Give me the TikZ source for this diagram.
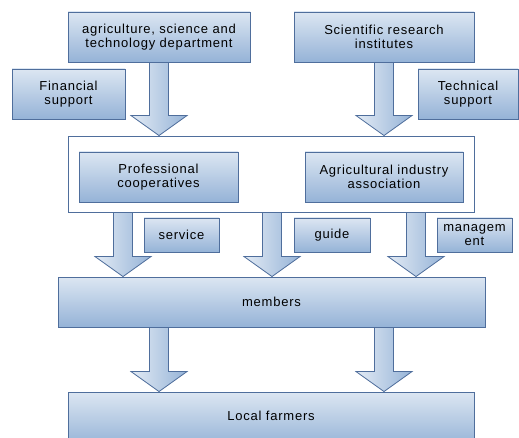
\documentclass[tikz,border=0pt]{standalone}
\usepackage{fontspec}
\setmainfont{Liberation Sans}[LetterSpace=6]
\usepackage{xcolor}
\usepackage{tikz}
\usetikzlibrary{calc,positioning}

\definecolor{boxtop}{HTML}{DCE6F2}
\definecolor{boxbot}{HTML}{95B3D7}
\definecolor{boxline}{HTML}{4F6E9C}

\tikzset{
  blue box/.style={draw=boxline,line width=0.9pt,top color=boxtop,bottom color=boxbot,
    inner sep=0pt,align=center,font=\fontsize{13}{14}\selectfont},
  group box/.style={draw=boxline,line width=0.9pt,fill=white,inner sep=0pt},
  fat arrow/.style={draw=boxline,line width=0.8pt,left color=boxtop!80!white,right color=boxbot}
}

% block arrow from #1 down to #2
\newcommand{\fatarrow}[2]{%
  \path[fat arrow] let \p1=#1, \p2=#2 in
    (\x1-9.5pt,\y1) -- (\x1+9.5pt,\y1) -- (\x1+9.5pt,\y2+20pt) -- (\x1+28pt,\y2+20pt)
    -- (\x1,\y2) -- (\x1-28pt,\y2+20pt) -- (\x1-9.5pt,\y2+20pt) -- cycle;}

\begin{document}
\begin{tikzpicture}[x=1pt,y=-1pt]
\useasboundingbox (0,0) rectangle (519,438);

\node[blue box,minimum width=182pt,minimum height=50pt] (dept) at (159,37) {agriculture, science and\\technology department};
\node[blue box,minimum width=180pt,minimum height=50pt] (inst) at (384,37) {Scientific research\\institutes};
\node[blue box,minimum width=113pt,minimum height=50pt] (fin) at (68.5,94) {Financial\\support};
\node[blue box,minimum width=100pt,minimum height=50pt] (tech) at (468,94) {Technical\\support};

\node[group box,minimum width=406pt,minimum height=76pt] (orgs) at (271,174) {};
\node[blue box,minimum width=159pt,minimum height=50pt] (coop) at (158.5,177) {Professional\\cooperatives};
\node[blue box,minimum width=158pt,minimum height=50pt] (assoc) at (384,177) {Agricultural industry\\association};

\node[blue box,minimum width=75pt,minimum height=34pt] (serv) at (181.5,235) {service};
\node[blue box,minimum width=76pt,minimum height=34pt] (guide) at (332,235) {guide};
\node[blue box,minimum width=75pt,minimum height=34pt] (mgmt) at (474.5,235) {managem\\ent};

\node[blue box,minimum width=427pt,minimum height=50pt] (memb) at (271.5,302) {members};
\node[blue box,minimum width=406pt,minimum height=54pt] (farm) at (271,419) {\raisebox{6pt}{Local farmers}};

\fatarrow{(dept.south)}{(dept.south |- orgs.north)}
\fatarrow{(inst.south)}{(inst.south |- orgs.north)}

\fatarrow{([xshift=-148pt]orgs.south)}{([xshift=-148pt]orgs.south |- memb.north)}
\fatarrow{([xshift=1pt]orgs.south)}{([xshift=1pt]orgs.south |- memb.north)}
\fatarrow{([xshift=145pt]orgs.south)}{([xshift=145pt]orgs.south |- memb.north)}

\fatarrow{(dept |- memb.south)}{(dept |- farm.north)}
\fatarrow{(inst |- memb.south)}{(inst |- farm.north)}
\end{tikzpicture}
\end{document}
